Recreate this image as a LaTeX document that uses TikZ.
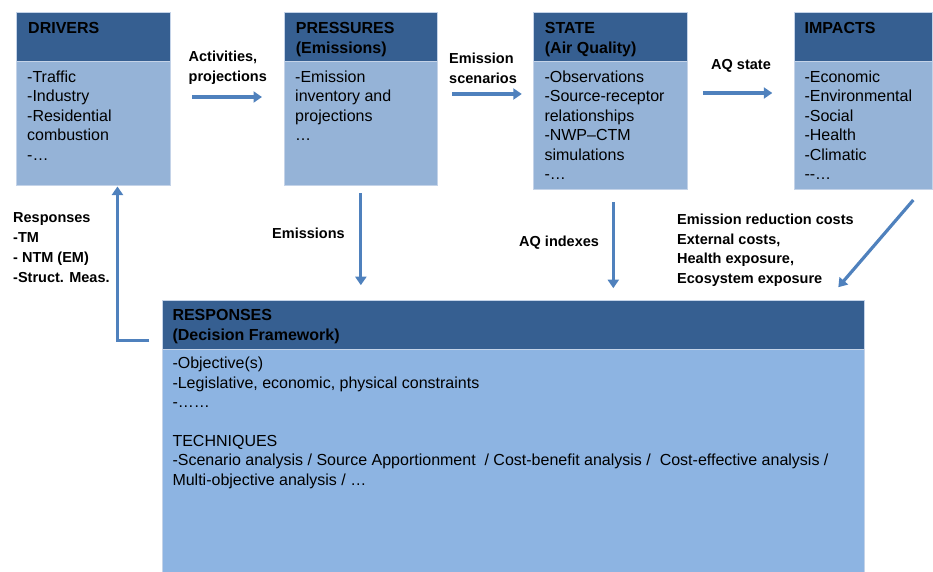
\documentclass[tikz,border=0pt]{standalone}
\usepackage{fontspec}
\setmainfont{Liberation Sans}
\usetikzlibrary{arrows.meta,calc}
\definecolor{hdr}{HTML}{365F91}
\definecolor{bodyc}{HTML}{95B3D7}
\definecolor{respc}{HTML}{8DB4E2}
\definecolor{arrc}{HTML}{4F81BD}
\definecolor{edgec}{HTML}{C4D3E8}
\begin{document}
\begin{tikzpicture}[x=1pt,y=-1pt,
  rect/.style={anchor=north west,inner sep=0pt,outer sep=0pt,draw=edgec,line width=0.6pt},
  hbox/.style={rect,fill=hdr},
  bbox/.style={rect,fill=bodyc},
  rbox/.style={rect,fill=respc},
  htext/.style={anchor=north west,inner sep=0pt,align=left,font=\bfseries\fontsize{16}{19.4}\selectfont},
  btext/.style={anchor=north west,inner sep=0pt,align=left,font=\fontsize{16}{19.4}\selectfont},
  lbl/.style={anchor=north west,inner sep=0pt,align=left,font=\bfseries\fontsize{14.5}{19.8}\selectfont},
  arr/.style={draw=arrc,line width=3.2pt,-{Triangle[width=11pt,length=8.5pt]}}
]
\useasboundingbox (0,0) rectangle (933,572);

% DRIVERS
\node[hbox,minimum width=153.5pt,minimum height=48.3pt] (dH) at (16.7,12.7) {};
\node[bbox,minimum width=153.5pt,minimum height=124pt] (dB) at (16.7,61) {};
\node[htext] (dHt) at (28,22.6) {DRIVERS};
\node[btext] (dBt) at (27,70.8) {-Traffic\\-Industry\\-Residential\\combustion\\-\ldots};

% PRESSURES
\node[hbox,minimum width=153.7pt,minimum height=48.3pt] (pH) at (284,12.7) {};
\node[bbox,minimum width=153.7pt,minimum height=124pt] (pB) at (284,61) {};
\node[htext] (pHt) at (295.7,22.6) {PRESSURES\\(Emissions)};
\node[btext] (pBt) at (295,70.8) {-Emission\\inventory and\\projections\\\ldots};

% STATE
\node[hbox,minimum width=154pt,minimum height=48.3pt] (sH) at (533.3,12.7) {};
\node[bbox,minimum width=154pt,minimum height=128pt] (sB) at (533.3,61) {};
\node[htext] (sHt) at (544.7,22.6) {STATE\\(Air Quality)};
\node[btext] (sBt) at (544.3,70.8) {-Observations\\-Source-receptor\\relationships\\-NWP--CTM\\simulations\\-\ldots};

% IMPACTS
\node[hbox,minimum width=138pt,minimum height=48.3pt] (iH) at (794.3,12.7) {};
\node[bbox,minimum width=138pt,minimum height=128pt] (iB) at (794.3,61) {};
\node[htext] (iHt) at (804.5,22.6) {IMPACTS};
\node[btext] (iBt) at (804.3,70.8) {-Economic\\-Environmental\\-Social\\-Health\\-Climatic\\-{}-\ldots};

% RESPONSES
\node[hbox,minimum width=702pt,minimum height=48.3pt] (rH) at (162.3,300.7) {};
\node[rbox,minimum width=702pt,minimum height=224pt] (rB) at (162.3,349) {};
\node[htext] (rHt) at (172.3,309.5) {RESPONSES\\(Decision Framework)};
\node[btext] (rBt) at (172.3,357.2) {-Objective(s)\\-Legislative, economic, physical constraints\\-\ldots\ldots\\[19.4pt]TECHNIQUES\\-Scenario analysis / Source Apportionment\ \ / Cost-benefit analysis /\ \ Cost-effective analysis /\\Multi-objective analysis / \ldots};

% labels
\node[lbl] (l1) at (188.5,50.5) {Activities,\\projections};
\node[lbl] (l2) at (449,52.5) {Emission\\scenarios};
\node[lbl] (l3) at (711,59.5) {AQ state};
\node[lbl] (l4) at (272,227.5) {Emissions};
\node[lbl] (l5) at (519,235.5) {AQ indexes};
\node[lbl] (l6) at (677,213.5) {Emission reduction costs\\External costs,\\Health exposure,\\Ecosystem exposure};
\node[lbl] (l7) at (13,212.5) {Responses\\-TM\\- NTM (EM)\\-Struct. Meas.};

% connectors
\draw[arr] ($(dB.north east)+(22,36)$) -- ($(pB.north west)+(-22,36)$);
\draw[arr] ($(pB.north east)+(14.5,33)$) -- ($(sB.north west)+(-11.5,33)$);
\draw[arr] ($(sB.north east)+(15.5,32)$) -- ($(iB.north west)+(-22,32)$);
\draw[arr] ($(pB.south)+(0,8)$) -- ($(pB.south |- rH.north)+(0,-15.5)$);
\draw[arr] ($(sB.south)+(3,13)$) -- ($(sB.south |- rH.north)+(3,-12.5)$);
\draw[arr] ($(iB.south east)+(-19,11)$) -- ($(rH.north east)+(-26,-13.5)$);
\coordinate (rIn) at ($(rH.north west)+(-13,39.5)$);
\draw[arr] (rIn) -| ($(dB.south)+(24,1.5)$);
\end{tikzpicture}
\end{document}
